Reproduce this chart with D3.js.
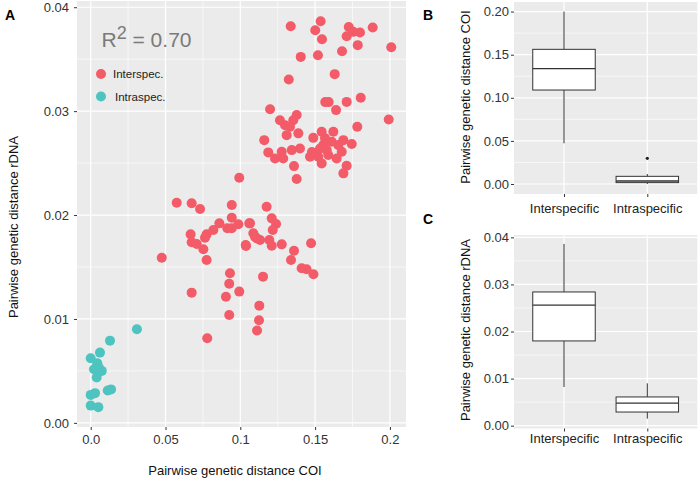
<!DOCTYPE html>
<html>
<head>
<meta charset="utf-8">
<script src="https://cdn.jsdelivr.net/npm/d3@7"></script>
<style>
  html, body { margin: 0; padding: 0; background: #fff; }
  svg { display: block; font-family: "Liberation Sans", Arial, sans-serif; }
</style>
</head>
<body>
<svg id="chart" width="698" height="481"></svg>
<script>
// ---------- DATA ----------
// Panel A: scatter of pairwise distances (COI on x, rDNA on y)
const interX = [0.1337,0.1537,0.1501,0.1546,0.1725,0.1711,0.1755,0.1800,0.1885,0.1785,0.2009,0.1680,0.1519,0.1404,0.1631,0.1324,0.1568,0.1591,0.1711,0.1805,0.1640,0.1199,0.1992,0.1782,
  0.1265,0.1299,0.1377,0.1354,0.1332,0.1310,0.1388,0.1160,0.1187,0.1232,0.1277,0.1287,0.1344,0.1399,0.1466,0.1359,0.1377,0.1488,0.1544,0.1622,0.1555,0.1611,0.1655,0.1689,0.1745,0.1521,0.1544,0.1588,0.1644,0.1678,0.1711,0.1689,0.1578,0.1533,0.1566,0.1479,
  0.0993,0.0575,0.0675,0.0731,0.0943,0.0943,0.0860,0.0820,0.0775,0.0764,0.0668,0.0675,0.0709,0.0753,0.0775,0.0475,0.0913,0.0943,0.0987,0.1060,0.1087,0.1110,0.1036,0.0931,0.0926,0.0904,0.0993,0.0675,0.0926,0.0779,0.1152,0.1127,0.1125,0.1112,
  0.1176,0.1210,0.1239,0.1217,0.1065,0.1132,0.1194,0.1210,0.1277,0.1359,0.1339,0.1473,0.1410,0.1443,0.1489,0.1038,0.1098];
const interY = [0.03817,0.03865,0.03779,0.03692,0.03810,0.03721,0.03763,0.03757,0.03805,0.03635,0.03615,0.03577,0.03538,0.03522,0.03356,0.03305,0.03087,0.03087,0.03089,0.03128,0.03010,0.03019,0.02920,0.02849,
  0.02913,0.02865,0.02962,0.02913,0.02849,0.02769,0.02786,0.02721,0.02603,0.02545,0.02609,0.02545,0.02625,0.02641,0.02561,0.02471,0.02346,0.02743,0.02801,0.02801,0.02673,0.02705,0.02673,0.02721,0.02683,0.02561,0.02497,0.02577,0.02545,0.02609,0.02474,0.02401,0.02625,0.02641,0.02740,0.02606,
  0.02359,0.02118,0.02113,0.02058,0.02096,0.01974,0.01920,0.01856,0.01814,0.01782,0.01814,0.01738,0.01721,0.01670,0.01567,0.01589,0.01872,0.01872,0.01911,0.01920,0.01824,0.01776,0.01712,0.01439,0.01339,0.01214,0.01263,0.01253,0.01038,0.00814,0.01407,0.01128,0.00988,0.00888,
  0.02080,0.01968,0.01913,0.01856,0.01920,0.01760,0.01760,0.01705,0.01718,0.01657,0.01567,0.01728,0.01488,0.01478,0.01430,0.01702,0.01791];
const intraX = [0.0309,0.0129,0.0062,0.0000,0.0044,0.0022,0.0074,0.0040,0.0055,0.0114,0.0136,0.0029,0.0000,0.0000,0.0051];
const intraY = [0.00901,0.00791,0.00676,0.00622,0.00574,0.00516,0.00500,0.00436,0.00529,0.00311,0.00322,0.00286,0.00269,0.00166,0.00151];

const legendLabels = ["Interspec.", "Intraspec."];
const r2Label = "0.70";

// Panel A ticks
const aXTicks = [0, 0.05, 0.1, 0.15, 0.2];
const aXTickLabels = ["0.0", "0.05", "0.1", "0.15", "0.2"];
const aYTicks = [0, 0.01, 0.02, 0.03, 0.04];
const aYTickLabels = ["0.00", "0.01", "0.02", "0.03", "0.04"];

// Panels B and C: box plot summaries [lower whisker, Q1, median, Q3, upper whisker]
const boxCategories = ["Interspecific", "Intraspecific"];
const coiStats = [[0.0472, 0.1090, 0.1338, 0.1562, 0.2000], [0.0000, 0.0016, 0.0035, 0.0089, 0.0116]];
const coiOutliers = [[], [0.0298]];
const rdnaStats = [[0.0082, 0.0180, 0.0256, 0.0284, 0.0386], [0.0015, 0.0029, 0.0048, 0.0061, 0.0090]];
const rdnaOutliers = [[], []];
const bYTicks = [0, 0.05, 0.10, 0.15, 0.20];
const bYTickLabels = ["0.00", "0.05", "0.10", "0.15", "0.20"];
const cYTicks = [0, 0.01, 0.02, 0.03, 0.04];
const cYTickLabels = ["0.00", "0.01", "0.02", "0.03", "0.04"];

// ---------- STYLE ----------
const RED = "#F35B68", CYAN = "#4DC4BF";
const PANEL_BG = "#EBEBEB";
const TICK_COLOR = "#333";

const svg = d3.select("#chart");

function panelBg(g, x0, x1, y0, y1) {
  g.append("rect").attr("x", x0).attr("y", y0).attr("width", x1 - x0).attr("height", y1 - y0).attr("fill", PANEL_BG);
}
function hGrid(g, scale, vals, x0, x1, w) {
  g.selectAll(null).data(vals).enter().append("line")
    .attr("x1", x0).attr("x2", x1).attr("y1", d => scale(d)).attr("y2", d => scale(d))
    .attr("stroke", "#fff").attr("stroke-width", w);
}
function vGrid(g, scale, vals, y0, y1, w) {
  g.selectAll(null).data(vals).enter().append("line")
    .attr("y1", y0).attr("y2", y1).attr("x1", d => scale(d)).attr("x2", d => scale(d))
    .attr("stroke", "#fff").attr("stroke-width", w);
}

// ---------- PANEL A ----------
const A = { left: 77, right: 406, top: 1, bottom: 427 };
const ax = d3.scaleLinear().domain([-0.00916, 0.21076]).range([A.left, A.right]);
const ay = d3.scaleLinear().domain([-0.0004, 0.0406]).range([A.bottom, A.top]);
const gA = svg.append("g");
panelBg(gA, A.left, A.right, A.top, A.bottom);
hGrid(gA, ay, [0.005, 0.015, 0.025, 0.035], A.left, A.right, 0.6);
vGrid(gA, ax, [0.025, 0.075, 0.125, 0.175], A.top, A.bottom, 0.6);
hGrid(gA, ay, aYTicks, A.left, A.right, 1.2);
vGrid(gA, ax, aXTicks, A.top, A.bottom, 1.2);

// axes using d3 axis generators
const axA = d3.axisBottom(ax).tickValues(aXTicks).tickFormat((d, i) => aXTickLabels[i]).tickSize(3).tickPadding(5);
const ayA = d3.axisLeft(ay).tickValues(aYTicks).tickFormat((d, i) => aYTickLabels[i]).tickSize(3).tickPadding(5);
function styleAxis(sel) {
  sel.select(".domain").remove();
  sel.selectAll(".tick line").attr("stroke", TICK_COLOR).attr("stroke-width", 1);
  sel.selectAll(".tick text").attr("fill", TICK_COLOR).style("font-size", "13px").style("font-family", "'Liberation Sans', Arial, sans-serif");
}
gA.append("g").attr("transform", `translate(0,${A.bottom})`).call(axA).call(styleAxis);
gA.append("g").attr("transform", `translate(${A.left},0)`).call(ayA).call(styleAxis);

// points
gA.append("g").selectAll("circle").data(interX.map((x, i) => [x, interY[i]])).enter().append("circle")
  .attr("cx", d => ax(d[0])).attr("cy", d => ay(d[1])).attr("r", 5).attr("fill", RED);
gA.append("g").selectAll("circle").data(intraX.map((x, i) => [x, intraY[i]])).enter().append("circle")
  .attr("cx", d => ax(d[0])).attr("cy", d => ay(d[1])).attr("r", 5).attr("fill", CYAN);

// R^2 annotation
const r2 = gA.append("text").attr("x", 101.5).attr("y", 46.5).attr("fill", "#7a7a7a").style("font-size", "21px");
r2.append("tspan").text("R");
r2.append("tspan").attr("dy", -8).style("font-size", "18px").text("2");
r2.append("tspan").attr("dy", 8).text(" = " + r2Label);

// legend
const legColors = [RED, CYAN];
const legY = [74, 96.5];
const legTX = [113, 115];
legendLabels.forEach((lab, i) => {
  gA.append("circle").attr("cx", 101).attr("cy", legY[i]).attr("r", 5).attr("fill", legColors[i]);
  gA.append("text").attr("x", legTX[i]).attr("y", legY[i]).attr("dy", "0.35em").attr("fill", "#222")
    .style("font-size", "11.5px").text(lab);
});

// axis titles
svg.append("text").attr("x", 235).attr("y", 470).attr("dy", "0.35em").attr("text-anchor", "middle")
  .style("font-size", "13px").attr("fill", "#111").text("Pairwise genetic distance COI");
svg.append("text").attr("transform", "translate(13.5,227) rotate(-90)").attr("dy", "0.35em").attr("text-anchor", "middle")
  .style("font-size", "13px").attr("fill", "#111").text("Pairwise genetic distance rDNA");
svg.append("text").attr("x", 5).attr("y", 20).style("font-size", "14px").style("font-weight", "bold").text("A");

// ---------- BOX PANELS ----------
function boxPanel(P, yDomain, ticks, tickLabels, stats, outliers, ylabel, ylabelY, letter, letterY, catLabelY) {
  const g = svg.append("g");
  const x = d3.scalePoint().domain(boxCategories).range([P.left, P.right]).padding(0.6);
  const y = d3.scaleLinear().domain(yDomain).range([P.bottom, P.top]);
  panelBg(g, P.left, P.right, P.top, P.bottom);
  const minor = ticks.slice(0, -1).map((t, i) => (t + ticks[i + 1]) / 2);
  hGrid(g, y, minor, P.left, P.right, 0.6);
  hGrid(g, y, ticks, P.left, P.right, 1.2);
  vGrid(g, x, boxCategories, P.top, P.bottom, 1.2);

  const yAx = d3.axisLeft(y).tickValues(ticks).tickFormat((d, i) => tickLabels[i]).tickSize(3).tickPadding(2);
  g.append("g").attr("transform", `translate(${P.left},0)`).call(yAx).call(styleAxis);
  const xAx = d3.axisBottom(x).tickSize(3).tickPadding(4);
  const xg = g.append("g").attr("transform", `translate(0,${P.bottom})`).call(xAx).call(styleAxis);
  xg.selectAll(".tick text").attr("y", null).attr("dy", null)
    .attr("transform", `translate(0,${catLabelY - P.bottom})`).attr("dominant-baseline", "central").attr("fill", "#222");

  const bw = x.step() * 0.75;
  boxCategories.forEach((c, i) => {
    const s = stats[i];
    const cx = x(c);
    // whiskers
    g.append("line").attr("x1", cx).attr("x2", cx).attr("y1", y(s[3])).attr("y2", y(s[4])).attr("stroke", "#333").attr("stroke-width", 1);
    g.append("line").attr("x1", cx).attr("x2", cx).attr("y1", y(s[1])).attr("y2", y(s[0])).attr("stroke", "#333").attr("stroke-width", 1);
    // box
    g.append("rect").attr("x", cx - bw / 2).attr("width", bw).attr("y", y(s[3])).attr("height", y(s[1]) - y(s[3]))
      .attr("fill", "#fff").attr("stroke", "#333").attr("stroke-width", 1);
    g.append("line").attr("x1", cx - bw / 2).attr("x2", cx + bw / 2).attr("y1", y(s[2])).attr("y2", y(s[2]))
      .attr("stroke", "#333").attr("stroke-width", 1.4);
    outliers[i].forEach(o => {
      g.append("circle").attr("cx", cx).attr("cy", y(o)).attr("r", 1.6).attr("fill", "#222");
    });
  });

  svg.append("text").attr("transform", `translate(465,${ylabelY}) rotate(-90)`).attr("dy", "0.35em").attr("text-anchor", "middle")
    .style("font-size", "13px").attr("fill", "#111").text(ylabel);
  svg.append("text").attr("x", 423).attr("y", letterY).style("font-size", "14px").style("font-weight", "bold").text(letter);
}

boxPanel({ left: 514, right: 697.3, top: 2, bottom: 194 }, [-0.0116, 0.2111], bYTicks, bYTickLabels,
  coiStats, coiOutliers, "Pairwise genetic distance COI", 97, "B", 20, 208.3);
boxPanel({ left: 514, right: 697.3, top: 235, bottom: 428.5 }, [-0.0006, 0.0405], cYTicks, cYTickLabels,
  rdnaStats, rdnaOutliers, "Pairwise genetic distance rDNA", 330, "C", 223.5, 438.3);
</script>
</body>
</html>
